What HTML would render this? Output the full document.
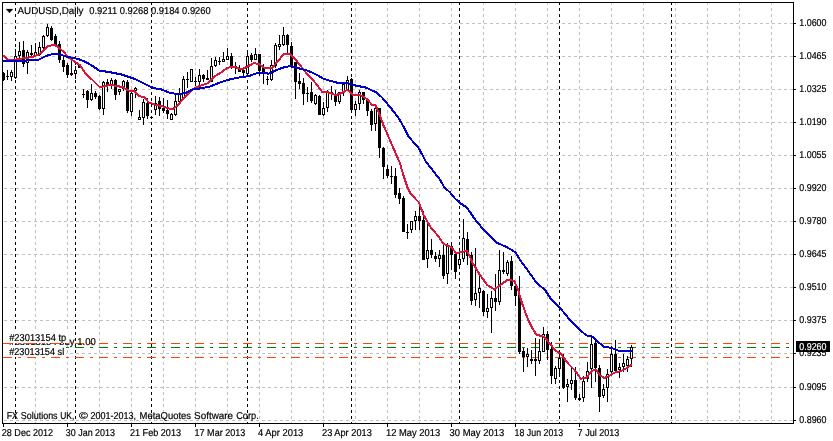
<!DOCTYPE html>
<html lang="en"><head><meta charset="utf-8"><title>AUDUSD,Daily</title>
<style>html,body{margin:0;padding:0;background:#fff}body{width:833px;height:441px;overflow:hidden}</style>
</head><body>
<svg width="833" height="441" viewBox="0 0 833 441" style="display:block">
<rect width="833" height="441" fill="#fff"/>
<g stroke="#c0c0c0" stroke-width="1" stroke-dasharray="3 3" shape-rendering="crispEdges" fill="none">
<path d="M3 23.5H793" stroke-dashoffset="5"/>
<path d="M3 56.5H793" stroke-dashoffset="5"/>
<path d="M3 89.5H793" stroke-dashoffset="5"/>
<path d="M3 122.5H793" stroke-dashoffset="5"/>
<path d="M3 155.5H793" stroke-dashoffset="5"/>
<path d="M3 188.5H793" stroke-dashoffset="5"/>
<path d="M3 221.5H793" stroke-dashoffset="5"/>
<path d="M3 254.5H793" stroke-dashoffset="5"/>
<path d="M3 287.5H793" stroke-dashoffset="5"/>
<path d="M3 320.5H793" stroke-dashoffset="5"/>
<path d="M3 353.5H793" stroke-dashoffset="5"/>
<path d="M3 387.5H793" stroke-dashoffset="5"/>
<path d="M3 420.5H793" stroke-dashoffset="5"/>
<path d="M35.5 3V423" stroke-dashoffset="1"/>
<path d="M67.5 3V423" stroke-dashoffset="1"/>
<path d="M99.5 3V423" stroke-dashoffset="1"/>
<path d="M131.5 3V423" stroke-dashoffset="1"/>
<path d="M163.5 3V423" stroke-dashoffset="1"/>
<path d="M195.5 3V423" stroke-dashoffset="1"/>
<path d="M227.5 3V423" stroke-dashoffset="1"/>
<path d="M259.5 3V423" stroke-dashoffset="1"/>
<path d="M291.5 3V423" stroke-dashoffset="1"/>
<path d="M323.5 3V423" stroke-dashoffset="1"/>
<path d="M355.5 3V423" stroke-dashoffset="1"/>
<path d="M387.5 3V423" stroke-dashoffset="1"/>
<path d="M419.5 3V423" stroke-dashoffset="1"/>
<path d="M451.5 3V423" stroke-dashoffset="1"/>
<path d="M483.5 3V423" stroke-dashoffset="1"/>
<path d="M515.5 3V423" stroke-dashoffset="1"/>
<path d="M547.5 3V423" stroke-dashoffset="1"/>
<path d="M579.5 3V423" stroke-dashoffset="1"/>
<path d="M611.5 3V423" stroke-dashoffset="1"/>
<path d="M643.5 3V423" stroke-dashoffset="1"/>
<path d="M675.5 3V423" stroke-dashoffset="1"/>
<path d="M707.5 3V423" stroke-dashoffset="1"/>
<path d="M739.5 3V423" stroke-dashoffset="1"/>
<path d="M771.5 3V423" stroke-dashoffset="1"/>
</g>
<g stroke="#000" stroke-width="1" stroke-dasharray="3 3" stroke-dashoffset="1" shape-rendering="crispEdges" fill="none">
<path d="M15.5 3V423"/>
<path d="M75.5 3V423"/>
<path d="M151.5 3V423"/>
<path d="M247.5 3V423"/>
<path d="M351.5 3V423"/>
<path d="M459.5 3V423"/>
<path d="M559.5 3V423"/>
<path d="M671.5 3V423"/>
</g>
<path d="M3 343.5H793" stroke="#ff4500" stroke-width="1" stroke-dasharray="9 6 3 6" shape-rendering="crispEdges" fill="none"/>
<path d="M3 347.5H793" stroke="#008000" stroke-width="1" stroke-dasharray="9 6 3 6" shape-rendering="crispEdges" fill="none"/>
<path d="M3 357.5H793" stroke="#ff4500" stroke-width="1" stroke-dasharray="9 6 3 6" shape-rendering="crispEdges" fill="none"/>
<g shape-rendering="crispEdges">
<rect x="3" y="72" width="1" height="9" fill="#000"/>
<rect x="2" y="73" width="3" height="7" fill="#000"/>
<rect x="7" y="70" width="1" height="10" fill="#000"/>
<rect x="6" y="76" width="3" height="1" fill="#000"/>
<rect x="11" y="70" width="1" height="11" fill="#000"/>
<rect x="10" y="72" width="3" height="5" fill="#000"/>
<rect x="11" y="73" width="1" height="3" fill="#fff"/>
<rect x="15" y="49" width="1" height="30" fill="#000"/>
<rect x="14" y="56" width="3" height="22" fill="#000"/>
<rect x="15" y="57" width="1" height="20" fill="#fff"/>
<rect x="19" y="42" width="1" height="19" fill="#000"/>
<rect x="18" y="51" width="3" height="5" fill="#000"/>
<rect x="19" y="52" width="1" height="3" fill="#fff"/>
<rect x="23" y="41" width="1" height="26" fill="#000"/>
<rect x="22" y="50" width="3" height="14" fill="#000"/>
<rect x="27" y="50" width="1" height="24" fill="#000"/>
<rect x="26" y="52" width="3" height="11" fill="#000"/>
<rect x="27" y="53" width="1" height="9" fill="#fff"/>
<rect x="31" y="45" width="1" height="11" fill="#000"/>
<rect x="30" y="53" width="3" height="2" fill="#000"/>
<rect x="35" y="43" width="1" height="14" fill="#000"/>
<rect x="34" y="52" width="3" height="4" fill="#000"/>
<rect x="35" y="53" width="1" height="2" fill="#fff"/>
<rect x="39" y="42" width="1" height="14" fill="#000"/>
<rect x="38" y="47" width="3" height="8" fill="#000"/>
<rect x="39" y="48" width="1" height="6" fill="#fff"/>
<rect x="43" y="35" width="1" height="14" fill="#000"/>
<rect x="42" y="36" width="3" height="12" fill="#000"/>
<rect x="43" y="37" width="1" height="10" fill="#fff"/>
<rect x="47" y="24" width="1" height="13" fill="#000"/>
<rect x="46" y="27" width="3" height="9" fill="#000"/>
<rect x="47" y="28" width="1" height="7" fill="#fff"/>
<rect x="51" y="26" width="1" height="15" fill="#000"/>
<rect x="50" y="28" width="3" height="12" fill="#000"/>
<rect x="55" y="34" width="1" height="13" fill="#000"/>
<rect x="54" y="36" width="3" height="10" fill="#000"/>
<rect x="59" y="41" width="1" height="22" fill="#000"/>
<rect x="58" y="44" width="3" height="16" fill="#000"/>
<rect x="63" y="57" width="1" height="15" fill="#000"/>
<rect x="62" y="60" width="3" height="7" fill="#000"/>
<rect x="67" y="63" width="1" height="15" fill="#000"/>
<rect x="66" y="65" width="3" height="10" fill="#000"/>
<rect x="71" y="59" width="1" height="17" fill="#000"/>
<rect x="70" y="73" width="3" height="2" fill="#000"/>
<rect x="75" y="66" width="1" height="13" fill="#000"/>
<rect x="74" y="70" width="3" height="4" fill="#000"/>
<rect x="75" y="71" width="1" height="2" fill="#fff"/>
<rect x="79" y="64" width="1" height="4" fill="#000"/>
<rect x="78" y="64" width="3" height="4" fill="#000"/>
<rect x="83" y="89" width="1" height="9" fill="#000"/>
<rect x="82" y="94" width="3" height="1" fill="#000"/>
<rect x="87" y="90" width="1" height="18" fill="#000"/>
<rect x="86" y="91" width="3" height="9" fill="#000"/>
<rect x="91" y="84" width="1" height="17" fill="#000"/>
<rect x="90" y="93" width="3" height="7" fill="#000"/>
<rect x="91" y="94" width="1" height="5" fill="#fff"/>
<rect x="95" y="91" width="1" height="8" fill="#000"/>
<rect x="94" y="93" width="3" height="4" fill="#000"/>
<rect x="99" y="95" width="1" height="15" fill="#000"/>
<rect x="98" y="96" width="3" height="13" fill="#000"/>
<rect x="103" y="81" width="1" height="34" fill="#000"/>
<rect x="102" y="82" width="3" height="27" fill="#000"/>
<rect x="103" y="83" width="1" height="25" fill="#fff"/>
<rect x="107" y="79" width="1" height="13" fill="#000"/>
<rect x="106" y="82" width="3" height="3" fill="#000"/>
<rect x="111" y="78" width="1" height="11" fill="#000"/>
<rect x="110" y="80" width="3" height="5" fill="#000"/>
<rect x="111" y="81" width="1" height="3" fill="#fff"/>
<rect x="115" y="79" width="1" height="21" fill="#000"/>
<rect x="114" y="80" width="3" height="15" fill="#000"/>
<rect x="119" y="89" width="1" height="6" fill="#000"/>
<rect x="118" y="89" width="3" height="3" fill="#000"/>
<rect x="119" y="90" width="1" height="1" fill="#fff"/>
<rect x="123" y="80" width="1" height="11" fill="#000"/>
<rect x="122" y="81" width="3" height="8" fill="#000"/>
<rect x="123" y="82" width="1" height="6" fill="#fff"/>
<rect x="127" y="80" width="1" height="33" fill="#000"/>
<rect x="126" y="82" width="3" height="29" fill="#000"/>
<rect x="131" y="92" width="1" height="24" fill="#000"/>
<rect x="130" y="93" width="3" height="19" fill="#000"/>
<rect x="131" y="94" width="1" height="17" fill="#fff"/>
<rect x="135" y="87" width="1" height="11" fill="#000"/>
<rect x="134" y="88" width="3" height="3" fill="#000"/>
<rect x="135" y="89" width="1" height="1" fill="#fff"/>
<rect x="139" y="110" width="1" height="10" fill="#000"/>
<rect x="138" y="117" width="3" height="3" fill="#000"/>
<rect x="139" y="118" width="1" height="1" fill="#fff"/>
<rect x="143" y="99" width="1" height="26" fill="#000"/>
<rect x="142" y="102" width="3" height="16" fill="#000"/>
<rect x="143" y="103" width="1" height="14" fill="#fff"/>
<rect x="147" y="98" width="1" height="21" fill="#000"/>
<rect x="146" y="103" width="3" height="13" fill="#000"/>
<rect x="151" y="116" width="1" height="3" fill="#000"/>
<rect x="150" y="117" width="3" height="1" fill="#000"/>
<rect x="155" y="96" width="1" height="19" fill="#000"/>
<rect x="154" y="103" width="3" height="7" fill="#000"/>
<rect x="155" y="104" width="1" height="5" fill="#fff"/>
<rect x="159" y="97" width="1" height="19" fill="#000"/>
<rect x="158" y="101" width="3" height="8" fill="#000"/>
<rect x="163" y="98" width="1" height="15" fill="#000"/>
<rect x="162" y="108" width="3" height="3" fill="#000"/>
<rect x="167" y="100" width="1" height="19" fill="#000"/>
<rect x="166" y="110" width="3" height="4" fill="#000"/>
<rect x="171" y="113" width="1" height="7" fill="#000"/>
<rect x="170" y="114" width="3" height="6" fill="#000"/>
<rect x="171" y="115" width="1" height="4" fill="#fff"/>
<rect x="175" y="95" width="1" height="21" fill="#000"/>
<rect x="174" y="101" width="3" height="14" fill="#000"/>
<rect x="175" y="102" width="1" height="12" fill="#fff"/>
<rect x="179" y="88" width="1" height="15" fill="#000"/>
<rect x="178" y="93" width="3" height="9" fill="#000"/>
<rect x="179" y="94" width="1" height="7" fill="#fff"/>
<rect x="183" y="76" width="1" height="23" fill="#000"/>
<rect x="182" y="79" width="3" height="19" fill="#000"/>
<rect x="183" y="80" width="1" height="17" fill="#fff"/>
<rect x="187" y="72" width="1" height="16" fill="#000"/>
<rect x="186" y="79" width="3" height="1" fill="#000"/>
<rect x="191" y="69" width="1" height="13" fill="#000"/>
<rect x="190" y="69" width="3" height="13" fill="#000"/>
<rect x="191" y="70" width="1" height="11" fill="#fff"/>
<rect x="195" y="77" width="1" height="9" fill="#000"/>
<rect x="194" y="81" width="3" height="1" fill="#000"/>
<rect x="199" y="69" width="1" height="16" fill="#000"/>
<rect x="198" y="75" width="3" height="7" fill="#000"/>
<rect x="199" y="76" width="1" height="5" fill="#fff"/>
<rect x="203" y="74" width="1" height="8" fill="#000"/>
<rect x="202" y="75" width="3" height="4" fill="#000"/>
<rect x="207" y="70" width="1" height="10" fill="#000"/>
<rect x="206" y="78" width="3" height="2" fill="#000"/>
<rect x="211" y="58" width="1" height="24" fill="#000"/>
<rect x="210" y="66" width="3" height="16" fill="#000"/>
<rect x="211" y="67" width="1" height="14" fill="#fff"/>
<rect x="215" y="57" width="1" height="10" fill="#000"/>
<rect x="214" y="60" width="3" height="6" fill="#000"/>
<rect x="215" y="61" width="1" height="4" fill="#fff"/>
<rect x="219" y="57" width="1" height="8" fill="#000"/>
<rect x="218" y="61" width="3" height="1" fill="#000"/>
<rect x="223" y="52" width="1" height="10" fill="#000"/>
<rect x="222" y="59" width="3" height="3" fill="#000"/>
<rect x="223" y="60" width="1" height="1" fill="#fff"/>
<rect x="227" y="48" width="1" height="12" fill="#000"/>
<rect x="226" y="56" width="3" height="4" fill="#000"/>
<rect x="227" y="57" width="1" height="2" fill="#fff"/>
<rect x="231" y="53" width="1" height="16" fill="#000"/>
<rect x="230" y="56" width="3" height="10" fill="#000"/>
<rect x="235" y="62" width="1" height="12" fill="#000"/>
<rect x="234" y="66" width="3" height="1" fill="#000"/>
<rect x="239" y="65" width="1" height="7" fill="#000"/>
<rect x="238" y="68" width="3" height="4" fill="#000"/>
<rect x="243" y="67" width="1" height="9" fill="#000"/>
<rect x="242" y="70" width="3" height="3" fill="#000"/>
<rect x="247" y="50" width="1" height="25" fill="#000"/>
<rect x="246" y="56" width="3" height="18" fill="#000"/>
<rect x="247" y="57" width="1" height="16" fill="#fff"/>
<rect x="251" y="53" width="1" height="9" fill="#000"/>
<rect x="250" y="55" width="3" height="5" fill="#000"/>
<rect x="255" y="48" width="1" height="12" fill="#000"/>
<rect x="254" y="54" width="3" height="6" fill="#000"/>
<rect x="255" y="55" width="1" height="4" fill="#fff"/>
<rect x="259" y="54" width="1" height="22" fill="#000"/>
<rect x="258" y="54" width="3" height="17" fill="#000"/>
<rect x="263" y="64" width="1" height="20" fill="#000"/>
<rect x="262" y="67" width="3" height="5" fill="#000"/>
<rect x="267" y="76" width="1" height="9" fill="#000"/>
<rect x="266" y="79" width="3" height="1" fill="#000"/>
<rect x="271" y="60" width="1" height="21" fill="#000"/>
<rect x="270" y="65" width="3" height="15" fill="#000"/>
<rect x="271" y="66" width="1" height="13" fill="#fff"/>
<rect x="275" y="43" width="1" height="25" fill="#000"/>
<rect x="274" y="45" width="3" height="21" fill="#000"/>
<rect x="275" y="46" width="1" height="19" fill="#fff"/>
<rect x="279" y="35" width="1" height="15" fill="#000"/>
<rect x="278" y="44" width="3" height="3" fill="#000"/>
<rect x="279" y="45" width="1" height="1" fill="#fff"/>
<rect x="283" y="27" width="1" height="19" fill="#000"/>
<rect x="282" y="35" width="3" height="10" fill="#000"/>
<rect x="283" y="36" width="1" height="8" fill="#fff"/>
<rect x="287" y="34" width="1" height="19" fill="#000"/>
<rect x="286" y="35" width="3" height="10" fill="#000"/>
<rect x="291" y="42" width="1" height="26" fill="#000"/>
<rect x="290" y="46" width="3" height="20" fill="#000"/>
<rect x="295" y="62" width="1" height="37" fill="#000"/>
<rect x="294" y="62" width="3" height="20" fill="#000"/>
<rect x="299" y="73" width="1" height="16" fill="#000"/>
<rect x="298" y="81" width="3" height="3" fill="#000"/>
<rect x="303" y="78" width="1" height="27" fill="#000"/>
<rect x="302" y="83" width="3" height="11" fill="#000"/>
<rect x="307" y="87" width="1" height="15" fill="#000"/>
<rect x="306" y="93" width="3" height="1" fill="#000"/>
<rect x="311" y="82" width="1" height="21" fill="#000"/>
<rect x="310" y="92" width="3" height="9" fill="#000"/>
<rect x="315" y="94" width="1" height="11" fill="#000"/>
<rect x="314" y="95" width="3" height="9" fill="#000"/>
<rect x="315" y="96" width="1" height="7" fill="#fff"/>
<rect x="319" y="95" width="1" height="20" fill="#000"/>
<rect x="318" y="96" width="3" height="19" fill="#000"/>
<rect x="323" y="102" width="1" height="14" fill="#000"/>
<rect x="322" y="108" width="3" height="7" fill="#000"/>
<rect x="323" y="109" width="1" height="5" fill="#fff"/>
<rect x="327" y="90" width="1" height="22" fill="#000"/>
<rect x="326" y="91" width="3" height="17" fill="#000"/>
<rect x="327" y="92" width="1" height="15" fill="#fff"/>
<rect x="331" y="86" width="1" height="14" fill="#000"/>
<rect x="330" y="92" width="3" height="1" fill="#000"/>
<rect x="335" y="90" width="1" height="16" fill="#000"/>
<rect x="334" y="94" width="3" height="8" fill="#000"/>
<rect x="339" y="92" width="1" height="12" fill="#000"/>
<rect x="338" y="92" width="3" height="10" fill="#000"/>
<rect x="339" y="93" width="1" height="8" fill="#fff"/>
<rect x="343" y="84" width="1" height="12" fill="#000"/>
<rect x="342" y="84" width="3" height="9" fill="#000"/>
<rect x="343" y="85" width="1" height="7" fill="#fff"/>
<rect x="347" y="76" width="1" height="14" fill="#000"/>
<rect x="346" y="80" width="3" height="10" fill="#000"/>
<rect x="347" y="81" width="1" height="8" fill="#fff"/>
<rect x="351" y="78" width="1" height="35" fill="#000"/>
<rect x="350" y="79" width="3" height="31" fill="#000"/>
<rect x="355" y="101" width="1" height="15" fill="#000"/>
<rect x="354" y="104" width="3" height="6" fill="#000"/>
<rect x="355" y="105" width="1" height="4" fill="#fff"/>
<rect x="359" y="90" width="1" height="20" fill="#000"/>
<rect x="358" y="92" width="3" height="12" fill="#000"/>
<rect x="359" y="93" width="1" height="10" fill="#fff"/>
<rect x="363" y="92" width="1" height="12" fill="#000"/>
<rect x="362" y="92" width="3" height="8" fill="#000"/>
<rect x="367" y="98" width="1" height="18" fill="#000"/>
<rect x="366" y="99" width="3" height="12" fill="#000"/>
<rect x="371" y="109" width="1" height="22" fill="#000"/>
<rect x="370" y="111" width="3" height="14" fill="#000"/>
<rect x="375" y="108" width="1" height="23" fill="#000"/>
<rect x="374" y="108" width="3" height="16" fill="#000"/>
<rect x="375" y="109" width="1" height="14" fill="#fff"/>
<rect x="379" y="108" width="1" height="50" fill="#000"/>
<rect x="378" y="108" width="3" height="40" fill="#000"/>
<rect x="383" y="147" width="1" height="32" fill="#000"/>
<rect x="382" y="148" width="3" height="19" fill="#000"/>
<rect x="387" y="165" width="1" height="13" fill="#000"/>
<rect x="386" y="169" width="3" height="7" fill="#000"/>
<rect x="391" y="166" width="1" height="18" fill="#000"/>
<rect x="390" y="176" width="3" height="1" fill="#000"/>
<rect x="395" y="168" width="1" height="30" fill="#000"/>
<rect x="394" y="176" width="3" height="19" fill="#000"/>
<rect x="399" y="188" width="1" height="16" fill="#000"/>
<rect x="398" y="193" width="3" height="6" fill="#000"/>
<rect x="403" y="196" width="1" height="36" fill="#000"/>
<rect x="402" y="198" width="3" height="34" fill="#000"/>
<rect x="407" y="224" width="1" height="15" fill="#000"/>
<rect x="406" y="232" width="3" height="1" fill="#000"/>
<rect x="411" y="221" width="1" height="12" fill="#000"/>
<rect x="410" y="221" width="3" height="9" fill="#000"/>
<rect x="411" y="222" width="1" height="7" fill="#fff"/>
<rect x="415" y="211" width="1" height="19" fill="#000"/>
<rect x="414" y="216" width="3" height="5" fill="#000"/>
<rect x="415" y="217" width="1" height="3" fill="#fff"/>
<rect x="419" y="207" width="1" height="23" fill="#000"/>
<rect x="418" y="216" width="3" height="5" fill="#000"/>
<rect x="423" y="211" width="1" height="49" fill="#000"/>
<rect x="422" y="220" width="3" height="40" fill="#000"/>
<rect x="427" y="223" width="1" height="45" fill="#000"/>
<rect x="426" y="250" width="3" height="9" fill="#000"/>
<rect x="427" y="251" width="1" height="7" fill="#fff"/>
<rect x="431" y="239" width="1" height="19" fill="#000"/>
<rect x="430" y="250" width="3" height="5" fill="#000"/>
<rect x="435" y="252" width="1" height="10" fill="#000"/>
<rect x="434" y="256" width="3" height="3" fill="#000"/>
<rect x="439" y="250" width="1" height="17" fill="#000"/>
<rect x="438" y="255" width="3" height="4" fill="#000"/>
<rect x="439" y="256" width="1" height="2" fill="#fff"/>
<rect x="443" y="242" width="1" height="37" fill="#000"/>
<rect x="442" y="255" width="3" height="21" fill="#000"/>
<rect x="447" y="243" width="1" height="41" fill="#000"/>
<rect x="446" y="246" width="3" height="28" fill="#000"/>
<rect x="447" y="247" width="1" height="26" fill="#fff"/>
<rect x="451" y="242" width="1" height="28" fill="#000"/>
<rect x="450" y="246" width="3" height="9" fill="#000"/>
<rect x="455" y="253" width="1" height="26" fill="#000"/>
<rect x="454" y="254" width="3" height="18" fill="#000"/>
<rect x="459" y="249" width="1" height="19" fill="#000"/>
<rect x="458" y="259" width="3" height="6" fill="#000"/>
<rect x="459" y="260" width="1" height="4" fill="#fff"/>
<rect x="463" y="219" width="1" height="43" fill="#000"/>
<rect x="462" y="238" width="3" height="21" fill="#000"/>
<rect x="463" y="239" width="1" height="19" fill="#fff"/>
<rect x="467" y="232" width="1" height="33" fill="#000"/>
<rect x="466" y="239" width="3" height="17" fill="#000"/>
<rect x="471" y="252" width="1" height="53" fill="#000"/>
<rect x="470" y="255" width="3" height="46" fill="#000"/>
<rect x="475" y="248" width="1" height="58" fill="#000"/>
<rect x="474" y="293" width="3" height="7" fill="#000"/>
<rect x="475" y="294" width="1" height="5" fill="#fff"/>
<rect x="479" y="275" width="1" height="33" fill="#000"/>
<rect x="478" y="288" width="3" height="5" fill="#000"/>
<rect x="479" y="289" width="1" height="3" fill="#fff"/>
<rect x="483" y="290" width="1" height="26" fill="#000"/>
<rect x="482" y="291" width="3" height="21" fill="#000"/>
<rect x="487" y="294" width="1" height="24" fill="#000"/>
<rect x="486" y="308" width="3" height="4" fill="#000"/>
<rect x="487" y="309" width="1" height="2" fill="#fff"/>
<rect x="491" y="291" width="1" height="42" fill="#000"/>
<rect x="490" y="298" width="3" height="10" fill="#000"/>
<rect x="491" y="299" width="1" height="8" fill="#fff"/>
<rect x="495" y="274" width="1" height="37" fill="#000"/>
<rect x="494" y="298" width="3" height="4" fill="#000"/>
<rect x="499" y="250" width="1" height="55" fill="#000"/>
<rect x="498" y="270" width="3" height="32" fill="#000"/>
<rect x="499" y="271" width="1" height="30" fill="#fff"/>
<rect x="503" y="252" width="1" height="22" fill="#000"/>
<rect x="502" y="270" width="3" height="2" fill="#000"/>
<rect x="507" y="260" width="1" height="16" fill="#000"/>
<rect x="506" y="262" width="3" height="12" fill="#000"/>
<rect x="507" y="263" width="1" height="10" fill="#fff"/>
<rect x="511" y="256" width="1" height="34" fill="#000"/>
<rect x="510" y="261" width="3" height="25" fill="#000"/>
<rect x="515" y="285" width="1" height="21" fill="#000"/>
<rect x="514" y="286" width="3" height="10" fill="#000"/>
<rect x="519" y="276" width="1" height="78" fill="#000"/>
<rect x="518" y="295" width="3" height="57" fill="#000"/>
<rect x="523" y="348" width="1" height="24" fill="#000"/>
<rect x="522" y="351" width="3" height="6" fill="#000"/>
<rect x="527" y="348" width="1" height="19" fill="#000"/>
<rect x="526" y="354" width="3" height="3" fill="#000"/>
<rect x="527" y="355" width="1" height="1" fill="#fff"/>
<rect x="531" y="350" width="1" height="14" fill="#000"/>
<rect x="530" y="359" width="3" height="2" fill="#000"/>
<rect x="535" y="338" width="1" height="38" fill="#000"/>
<rect x="534" y="359" width="3" height="2" fill="#000"/>
<rect x="539" y="339" width="1" height="25" fill="#000"/>
<rect x="538" y="351" width="3" height="10" fill="#000"/>
<rect x="539" y="352" width="1" height="8" fill="#fff"/>
<rect x="543" y="327" width="1" height="25" fill="#000"/>
<rect x="542" y="334" width="3" height="18" fill="#000"/>
<rect x="543" y="335" width="1" height="16" fill="#fff"/>
<rect x="547" y="331" width="1" height="29" fill="#000"/>
<rect x="546" y="334" width="3" height="16" fill="#000"/>
<rect x="551" y="342" width="1" height="42" fill="#000"/>
<rect x="550" y="349" width="3" height="27" fill="#000"/>
<rect x="555" y="366" width="1" height="18" fill="#000"/>
<rect x="554" y="368" width="3" height="11" fill="#000"/>
<rect x="555" y="369" width="1" height="9" fill="#fff"/>
<rect x="559" y="354" width="1" height="22" fill="#000"/>
<rect x="558" y="358" width="3" height="11" fill="#000"/>
<rect x="559" y="359" width="1" height="9" fill="#fff"/>
<rect x="563" y="354" width="1" height="35" fill="#000"/>
<rect x="562" y="357" width="3" height="31" fill="#000"/>
<rect x="567" y="379" width="1" height="23" fill="#000"/>
<rect x="566" y="384" width="3" height="3" fill="#000"/>
<rect x="567" y="385" width="1" height="1" fill="#fff"/>
<rect x="571" y="368" width="1" height="22" fill="#000"/>
<rect x="570" y="380" width="3" height="4" fill="#000"/>
<rect x="571" y="381" width="1" height="2" fill="#fff"/>
<rect x="575" y="367" width="1" height="33" fill="#000"/>
<rect x="574" y="380" width="3" height="18" fill="#000"/>
<rect x="579" y="394" width="1" height="7" fill="#000"/>
<rect x="578" y="398" width="3" height="2" fill="#000"/>
<rect x="583" y="376" width="1" height="26" fill="#000"/>
<rect x="582" y="381" width="3" height="17" fill="#000"/>
<rect x="583" y="382" width="1" height="15" fill="#fff"/>
<rect x="587" y="362" width="1" height="20" fill="#000"/>
<rect x="586" y="371" width="3" height="8" fill="#000"/>
<rect x="587" y="372" width="1" height="6" fill="#fff"/>
<rect x="591" y="337" width="1" height="51" fill="#000"/>
<rect x="590" y="344" width="3" height="25" fill="#000"/>
<rect x="591" y="345" width="1" height="23" fill="#fff"/>
<rect x="595" y="340" width="1" height="42" fill="#000"/>
<rect x="594" y="343" width="3" height="25" fill="#000"/>
<rect x="599" y="365" width="1" height="47" fill="#000"/>
<rect x="598" y="368" width="3" height="29" fill="#000"/>
<rect x="603" y="384" width="1" height="14" fill="#000"/>
<rect x="602" y="389" width="3" height="7" fill="#000"/>
<rect x="603" y="390" width="1" height="5" fill="#fff"/>
<rect x="607" y="369" width="1" height="33" fill="#000"/>
<rect x="606" y="374" width="3" height="14" fill="#000"/>
<rect x="607" y="375" width="1" height="12" fill="#fff"/>
<rect x="611" y="346" width="1" height="28" fill="#000"/>
<rect x="610" y="354" width="3" height="18" fill="#000"/>
<rect x="611" y="355" width="1" height="16" fill="#fff"/>
<rect x="615" y="340" width="1" height="32" fill="#000"/>
<rect x="614" y="354" width="3" height="17" fill="#000"/>
<rect x="619" y="363" width="1" height="15" fill="#000"/>
<rect x="618" y="367" width="3" height="3" fill="#000"/>
<rect x="619" y="368" width="1" height="1" fill="#fff"/>
<rect x="623" y="354" width="1" height="18" fill="#000"/>
<rect x="622" y="363" width="3" height="4" fill="#000"/>
<rect x="623" y="364" width="1" height="2" fill="#fff"/>
<rect x="627" y="356" width="1" height="16" fill="#000"/>
<rect x="626" y="359" width="3" height="7" fill="#000"/>
<rect x="627" y="360" width="1" height="5" fill="#fff"/>
<rect x="631" y="345" width="1" height="22" fill="#000"/>
<rect x="630" y="347" width="3" height="12" fill="#000"/>
<rect x="631" y="348" width="1" height="10" fill="#fff"/>
</g>
<polyline points="3.2,55.6 5.8,58.1 9.4,60.5 13.7,60.3 18.7,58.8 25.9,58.1 33.1,56.7 38.9,54.5 43.2,50.9 48.3,46.1 54.0,44.8 57.6,46.6 63.4,51.6 69.2,58.1 74.9,61.7 80.0,65.3 86.5,74.7 92.2,79.7 99.4,86.9 105.2,86.2 111.0,84.5 115.8,86.0 123.0,87.0 127.3,90.3 134.5,91.0 138.8,96.0 143.9,97.0 148.9,102.5 153.2,104.0 161.9,106.2 169.1,108.6 173.4,108.7 178.4,104.7 184.9,96.8 192.1,89.6 199.3,86.0 208.0,83.1 215.2,75.9 220.0,73.2 225.8,68.9 230.8,66.7 235.9,67.4 241.6,69.3 247.4,66.7 253.9,63.1 258.2,63.8 264.7,67.9 271.9,67.9 277.6,61.7 283.4,54.5 289.9,54.0 294.9,58.8 300.7,66.0 306.5,73.2 315.1,82.6 322.3,91.9 329.5,92.6 335.8,95.2 341.5,93.1 347.3,89.9 353.0,94.8 361.7,95.6 367.5,99.5 371.8,104.6 375.4,105.0 379.0,113.2 383.5,125.3 388.1,135.9 393.6,148.6 399.9,163.1 403.6,175.8 407.2,186.7 410.8,193.9 419.0,202.6 423.6,215.0 430.8,227.7 438.1,235.8 443.5,244.0 450.8,246.7 456.2,253.0 461.7,252.1 467.1,250.9 470.0,257.0 472.7,263.2 480.0,275.0 487.2,284.9 494.5,289.5 501.7,284.0 508.1,279.5 514.4,281.3 518.0,289.5 521.7,302.2 527.2,317.5 531.8,327.3 536.3,334.5 543.6,336.7 549.9,343.6 555.4,350.8 560.8,353.6 567.2,362.6 574.4,369.9 580.8,378.6 586.2,378.0 591.6,370.8 596.2,369.9 599.8,375.3 604.3,378.0 608.9,376.2 614.3,372.6 621.6,370.8 627.0,368.1 631.6,364.4" fill="none" stroke="#dc143c" stroke-width="2" stroke-linejoin="round" stroke-linecap="butt" shape-rendering="crispEdges"/>
<polyline points="3.2,61.0 14.4,61.3 27.4,60.5 38.9,59.5 46.1,55.9 53.3,53.8 59.1,54.2 66.3,56.7 77.8,58.8 86.5,62.4 93.7,66.7 99.4,70.8 108.0,71.8 121.5,74.5 134.5,78.8 143.1,83.1 153.2,87.9 161.9,89.6 170.5,93.2 177.7,93.9 184.9,93.2 192.1,89.6 202.2,88.1 209.4,86.7 216.6,83.8 220.0,82.6 228.6,79.7 238.7,77.5 248.8,76.1 257.5,72.9 269.0,73.6 277.6,69.6 284.8,67.0 290.6,66.0 297.8,68.1 306.5,70.3 315.1,73.9 323.7,78.9 330.0,80.8 337.2,82.7 348.7,83.3 355.9,85.6 366.0,87.6 376.1,92.3 381.9,97.4 390.5,107.5 399.2,119.0 404.0,127.5 408.1,135.9 419.0,148.6 426.2,162.2 433.5,171.3 439.8,179.4 444.4,187.6 449.8,192.1 455.0,198.5 459.0,202.3 467.1,207.7 474.4,218.6 483.4,229.5 496.1,242.5 507.0,247.2 515.2,252.1 521.5,262.1 527.1,269.5 536.2,282.2 545.3,290.4 550.7,298.5 559.8,307.6 568.8,318.5 578.0,328.2 586.2,335.4 592.6,336.7 598.0,341.8 604.3,347.2 610.7,347.6 618.0,350.5 625.2,351.2 631.6,351.2" fill="none" stroke="#0000cd" stroke-width="2" stroke-linejoin="round" stroke-linecap="butt" shape-rendering="crispEdges"/>
<g fill="#000" shape-rendering="crispEdges">
<rect x="2" y="2" width="792" height="1"/>
<rect x="2" y="2" width="1" height="422"/>
<rect x="2" y="423" width="792" height="1"/>
<rect x="793" y="2" width="1" height="422"/>
<rect x="794" y="23" width="2" height="1"/>
<rect x="794" y="56" width="2" height="1"/>
<rect x="794" y="89" width="2" height="1"/>
<rect x="794" y="122" width="2" height="1"/>
<rect x="794" y="155" width="2" height="1"/>
<rect x="794" y="188" width="2" height="1"/>
<rect x="794" y="221" width="2" height="1"/>
<rect x="794" y="254" width="2" height="1"/>
<rect x="794" y="287" width="2" height="1"/>
<rect x="794" y="320" width="2" height="1"/>
<rect x="794" y="353" width="2" height="1"/>
<rect x="794" y="387" width="2" height="1"/>
<rect x="794" y="420" width="2" height="1"/>
<rect x="3" y="424" width="1" height="3"/>
<rect x="67" y="424" width="1" height="3"/>
<rect x="131" y="424" width="1" height="3"/>
<rect x="195" y="424" width="1" height="3"/>
<rect x="259" y="424" width="1" height="3"/>
<rect x="323" y="424" width="1" height="3"/>
<rect x="387" y="424" width="1" height="3"/>
<rect x="451" y="424" width="1" height="3"/>
<rect x="515" y="424" width="1" height="3"/>
<rect x="579" y="424" width="1" height="3"/>
</g>
<g font-family="'Liberation Sans', Arial, sans-serif" font-size="10px" fill="#000" stroke="#000" stroke-width="0.2" style="text-rendering:geometricPrecision">
<text x="799.3" y="26" textLength="27.2" lengthAdjust="spacingAndGlyphs">1.0600</text>
<text x="799.3" y="59" textLength="27.2" lengthAdjust="spacingAndGlyphs">1.0465</text>
<text x="799.3" y="92" textLength="27.2" lengthAdjust="spacingAndGlyphs">1.0325</text>
<text x="799.3" y="125" textLength="27.2" lengthAdjust="spacingAndGlyphs">1.0190</text>
<text x="799.3" y="158" textLength="27.2" lengthAdjust="spacingAndGlyphs">1.0055</text>
<text x="799.3" y="191" textLength="27.2" lengthAdjust="spacingAndGlyphs">0.9920</text>
<text x="799.3" y="224" textLength="27.2" lengthAdjust="spacingAndGlyphs">0.9780</text>
<text x="799.3" y="257" textLength="27.2" lengthAdjust="spacingAndGlyphs">0.9645</text>
<text x="799.3" y="290" textLength="27.2" lengthAdjust="spacingAndGlyphs">0.9510</text>
<text x="799.3" y="323" textLength="27.2" lengthAdjust="spacingAndGlyphs">0.9375</text>
<text x="799.3" y="356" textLength="27.2" lengthAdjust="spacingAndGlyphs">0.9235</text>
<text x="799.3" y="390" textLength="27.2" lengthAdjust="spacingAndGlyphs">0.9095</text>
<text x="799.3" y="423" textLength="27.2" lengthAdjust="spacingAndGlyphs">0.8960</text>
<rect x="796" y="341" width="34" height="11" fill="#000" stroke="none" shape-rendering="crispEdges"/>
<text x="799.3" y="349.6" fill="#fff" stroke="#fff" textLength="27.2" lengthAdjust="spacingAndGlyphs">0.9260</text>
<path d="M6 9H13L9.5 13Z" fill="#000"/>
<text x="17.5" y="13.8" textLength="66" lengthAdjust="spacingAndGlyphs">AUDUSD,Daily</text>
<text x="89.3" y="13.8" textLength="121.4" lengthAdjust="spacingAndGlyphs">0.9211 0.9268 0.9184 0.9260</text>
<text x="9.2" y="345.1" textLength="86.5" lengthAdjust="spacingAndGlyphs">#23013154 buy 1.00</text>
<rect x="3" y="331" width="66" height="12" fill="#fff" stroke="none"/>
<text x="9.2" y="341.1" textLength="57" lengthAdjust="spacingAndGlyphs">#23013154 tp</text>
<path d="M3 343.5H69" stroke="#ff4500" stroke-width="1" stroke-dasharray="9 6 3 6" shape-rendering="crispEdges" fill="none"/>
<rect x="3" y="345" width="63" height="12" fill="#fff" stroke="none"/>
<text x="9.2" y="354.9" textLength="55" lengthAdjust="spacingAndGlyphs">#23013154 sl</text>
<text x="6.699999999999999" y="418.9" textLength="11.3" lengthAdjust="spacingAndGlyphs">FX</text>
<text x="20.8" y="418.9" textLength="36.8" lengthAdjust="spacingAndGlyphs">Solutions</text>
<text x="60.2" y="418.9" textLength="14.1" lengthAdjust="spacingAndGlyphs">UK,</text>
<text x="79.0" y="418.9" textLength="8.9" lengthAdjust="spacingAndGlyphs">©</text>
<text x="90.39999999999999" y="418.9" textLength="45.5" lengthAdjust="spacingAndGlyphs">2001-2013,</text>
<text x="139.6" y="418.9" textLength="51.4" lengthAdjust="spacingAndGlyphs">MetaQuotes</text>
<text x="194.1" y="418.9" textLength="39.0" lengthAdjust="spacingAndGlyphs">Software</text>
<text x="236.2" y="418.9" textLength="22.5" lengthAdjust="spacingAndGlyphs">Corp.</text>
<text x="1.8" y="436" textLength="51.3" lengthAdjust="spacingAndGlyphs">28 Dec 2012</text>
<text x="65.8" y="436" textLength="49.2" lengthAdjust="spacingAndGlyphs">30 Jan 2013</text>
<text x="130" y="436" textLength="51" lengthAdjust="spacingAndGlyphs">21 Feb 2013</text>
<text x="194.6" y="436" textLength="50.6" lengthAdjust="spacingAndGlyphs">17 Mar 2013</text>
<text x="258" y="436" textLength="45.3" lengthAdjust="spacingAndGlyphs">4 Apr 2013</text>
<text x="322" y="436" textLength="49.8" lengthAdjust="spacingAndGlyphs">23 Apr 2013</text>
<text x="386" y="436" textLength="54.2" lengthAdjust="spacingAndGlyphs">12 May 2013</text>
<text x="449.6" y="436" textLength="54.6" lengthAdjust="spacingAndGlyphs">30 May 2013</text>
<text x="514.6" y="436" textLength="48.5" lengthAdjust="spacingAndGlyphs">18 Jun 2013</text>
<text x="577.6" y="436" textLength="41.8" lengthAdjust="spacingAndGlyphs">7 Jul 2013</text>
</g>
</svg>
</body></html>
